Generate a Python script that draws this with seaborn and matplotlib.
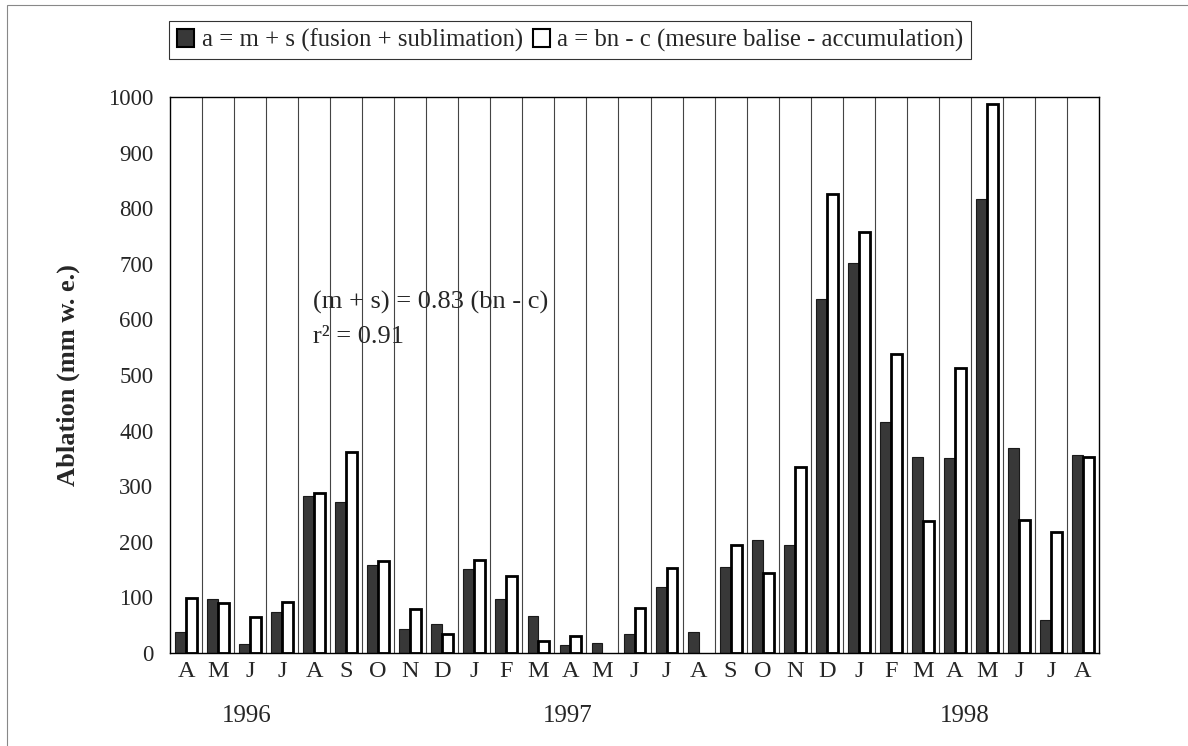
import pandas as pd
import matplotlib.pyplot as plt
import seaborn as sns
from matplotlib.patches import Rectangle

# Données (avril 1996 - août 1998)
periodes = pd.period_range("1996-04", "1998-08", freq="M").astype(str).tolist()
mois = ["A", "M", "J", "J", "A", "S", "O", "N", "D",
        "J", "F", "M", "A", "M", "J", "J", "A", "S", "O", "N", "D",
        "J", "F", "M", "A", "M", "J", "J", "A"]
fusion_sublimation = [37, 97, 16, 74, 283, 272, 159, 43, 52,
                      151, 97, 67, 14, 18, 34, 118, 37, 155, 203, 194, 636,
                      702, 416, 352, 350, 816, 368, 59, 356]
balise_accumulation = [99, 90, 64, 92, 287, 361, 165, 79, 35,
                       167, 138, 22, 31, 0, 80, 152, 0, 195, 144, 335, 826,
                       757, 538, 237, 513, 988, 239, 218, 353]
annees = ["1996", "1997", "1998"]
pos_annees = [1.9, 11.9, 24.3]

serie_1 = "a = m + s (fusion + sublimation)"
serie_2 = "a = bn - c (mesure balise - accumulation)"

df = pd.DataFrame({
    "periode": periodes * 2,
    "ablation": fusion_sublimation + balise_accumulation,
    "serie": [serie_1] * len(periodes) + [serie_2] * len(periodes),
})

sns.set_style("white")
plt.rcParams["font.family"] = ["Liberation Serif", "DejaVu Serif"]

fig = plt.figure(figsize=(11.88, 7.46), dpi=100)
ax = fig.add_axes([0.1431, 0.1247, 0.9251 - 0.1431, 0.870 - 0.1247])

sns.barplot(data=df, x="periode", y="ablation", hue="serie", order=periodes,
            palette={serie_1: "#383838", serie_2: "white"}, width=0.68,
            saturation=1, gap=0, ax=ax)

for barre in ax.containers[0]:
    barre.set_edgecolor("#1a1a1a")
    barre.set_linewidth(0.8 if barre.get_height() > 0 else 0)
for barre in ax.containers[1]:
    barre.set_edgecolor("black")
    barre.set_linewidth(2.0 if barre.get_height() > 0 else 0)

n = len(periodes)
ax.set_xlim(-0.5, n - 0.5)
ax.set_ylim(0, 1000)
ax.set_yticks(range(0, 1001, 100))
ax.tick_params(axis="y", labelsize=16.5, length=6, direction="out", width=0.8, pad=6)
ax.set_xticks(range(n))
ax.set_xticklabels(mois, fontsize=17.5)
ax.tick_params(axis="x", length=0, pad=6)
ax.set_xticks([i + 0.5 for i in range(-1, n)], minor=True)
ax.tick_params(axis="x", which="minor", length=6, width=0.8, direction="out")

for i in range(n - 1):
    ax.axvline(i + 0.5, color="#444444", linewidth=0.8, zorder=0)

for s in ax.spines.values():
    s.set_color("black")
    s.set_linewidth(1.0)

ax.set_xlabel("")
ax.set_ylabel("Ablation (mm w. e.)", fontsize=19, fontweight="bold", labelpad=20)

for pos, annee in zip(pos_annees, annees):
    ax.text(pos, -0.114, annee, transform=ax.get_xaxis_transform(),
            ha="center", va="center", fontsize=18)

ax.text(3.96, 631, "(m + s) = 0.83 (bn - c)", fontsize=19, ha="left", va="center")
ax.text(3.96, 568, "r² = 0.91", fontsize=19, ha="left", va="center")

leg = ax.legend(loc="center", bbox_to_anchor=(0.48, 0.946), bbox_transform=fig.transFigure,
                ncol=2, frameon=True, fancybox=False, edgecolor="black", fontsize=17.8,
                handlelength=0.7, handleheight=0.7, handletextpad=0.3, columnspacing=0.4,
                borderpad=0.3)
leg.get_frame().set_linewidth(0.8)
for poignee in leg.legend_handles:
    poignee.set_edgecolor("black")
    poignee.set_linewidth(1.5)

fig.patches.append(Rectangle((0.006, -0.01), 1.1, 1.003, transform=fig.transFigure,
                             fill=False, edgecolor="#888888", linewidth=0.8))

fig.savefig("out.png", dpi=100)
